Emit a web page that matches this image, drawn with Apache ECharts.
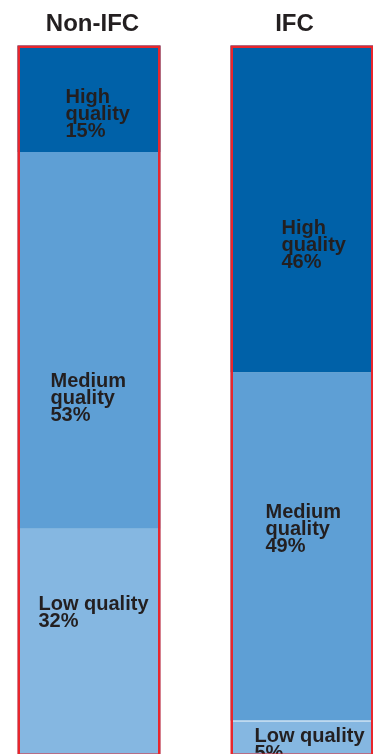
<!DOCTYPE html>
<html>
<head>
<meta charset="utf-8">
<script src="https://cdn.jsdelivr.net/npm/echarts@6/dist/echarts.min.js"></script>
<style>
html,body{margin:0;padding:0;background:#fff;}
#chart{width:373px;height:754px;}
</style>
</head>
<body>
<div id="chart"></div>
<script>
// ---- data ----
const categories = ['Non-IFC', 'IFC'];
const seriesNames = ['High quality', 'Medium quality', 'Low quality'];
const labelTexts = ['High\nquality', 'Medium\nquality', 'Low quality'];
const highValues = [15, 46];
const mediumValues = [53, 49];
const lowValues = [32, 5];
const frameValues = [100, 100];

// ---- layout (label offsets relative to each segment's top-left) ----
const labelOffsets = {
  high:   [[48, 43], [51, 174]],
  medium: [[33, 221], [35, 132]],
  low:    [[21, 67], [24, 8]]
};

const colors = { high: '#0061A8', medium: '#5E9FD5', low: '#85B7E1', frame: '#E8262C', text: '#231F20' };
const FONT = 'Liberation Sans, Arial, sans-serif';

function makeSeries(key, idx, values, color) {
  return {
    name: seriesNames[idx],
    type: 'bar',
    stack: 'total',
    barWidth: 143,
    barGap: '-100%',
    itemStyle: { color: color },
    data: values.map((v, i) => {
      const item = {
        value: v,
        label: {
          show: true,
          position: labelOffsets[key][i],
          align: 'left',
          verticalAlign: 'top',
          formatter: labelTexts[idx] + '\n' + v + '%',
          color: colors.text,
          fontFamily: FONT,
          fontWeight: 'bold',
          fontSize: 20,
          lineHeight: 17
        }
      };
      if (key === 'low' && i === 1) {
        item.itemStyle = { color: color, borderColor: '#ffffff', borderWidth: 1 };
      }
      return item;
    })
  };
}

const chart = echarts.init(document.getElementById('chart'), null, { renderer: 'canvas' });
chart.setOption({
  animation: false,
  backgroundColor: '#ffffff',
  grid: { left: -17.5, right: -35.5, top: 45.5, bottom: -2, containLabel: false, outerBoundsMode: 'none' },
  xAxis: {
    type: 'category',
    position: 'top',
    data: [
      { value: categories[0], textStyle: { padding: [0, 0, 0, 7] } },
      { value: categories[1], textStyle: { padding: [0, 15, 0, 0] } }
    ],
    axisLine: { show: false },
    axisTick: { show: false },
    axisLabel: {
      color: colors.text,
      fontFamily: FONT,
      fontWeight: 'bold',
      fontSize: 24,
      margin: 9
    }
  },
  yAxis: { type: 'value', min: 0, max: 100, show: false },
  series: [
    makeSeries('low', 2, lowValues, colors.low),
    makeSeries('medium', 1, mediumValues, colors.medium),
    makeSeries('high', 0, highValues, colors.high),
    {
      name: 'frame',
      type: 'bar',
      barWidth: 143,
      barGap: '-100%',
      silent: true,
      z: 5,
      itemStyle: { color: 'rgba(0,0,0,0)', borderColor: colors.frame, borderWidth: 2.5 },
      data: frameValues
    }
  ]
});
</script>
</body>
</html>
